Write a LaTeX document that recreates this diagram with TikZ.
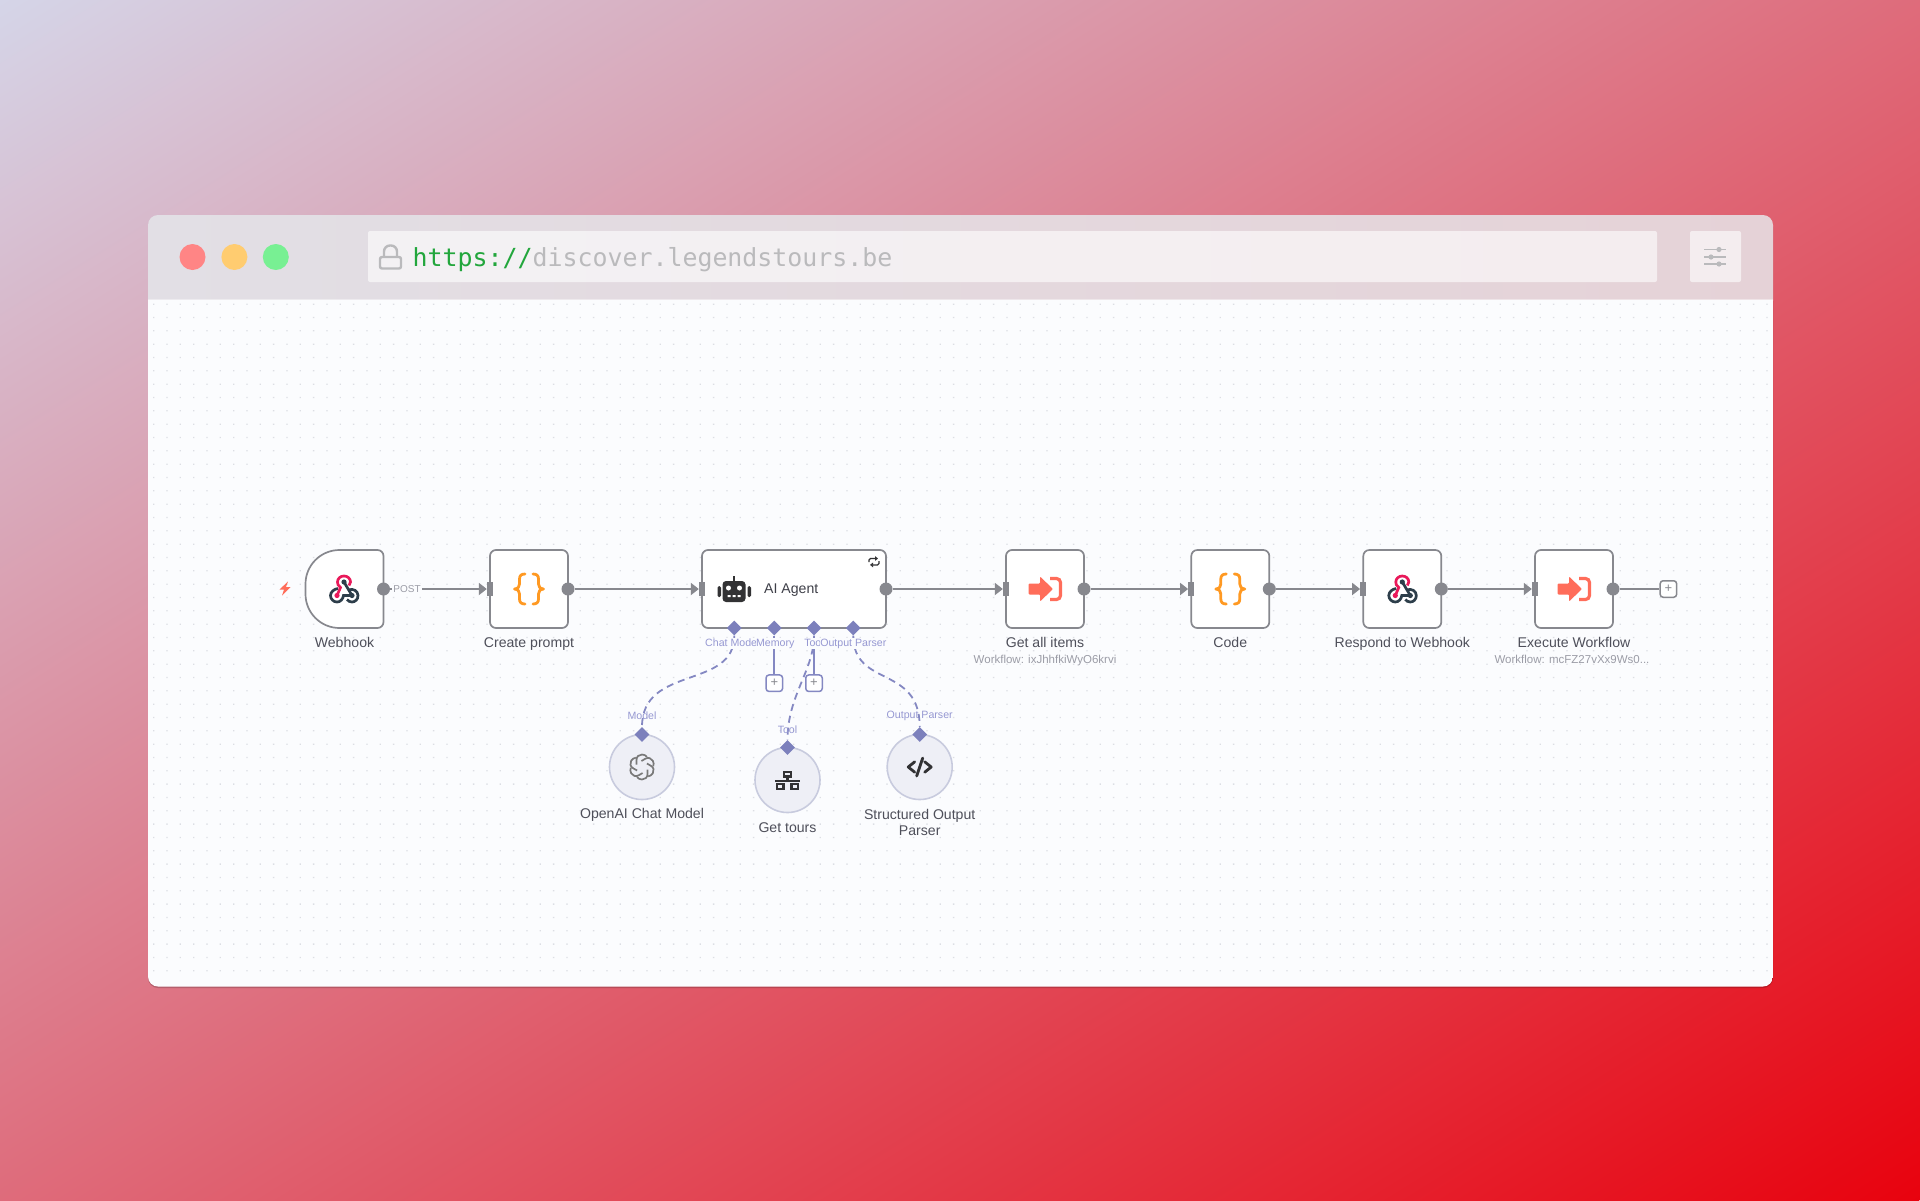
\documentclass[tikz,border=0pt]{standalone}
\usepackage{fontspec}
\setmainfont{Liberation Sans}
\newfontfamily\urlfont{DejaVu Sans Mono}
\definecolor{skyfrom}{RGB}{213, 213, 232}
\definecolor{skymid}{RGB}{222, 101, 117}
\definecolor{skyto}{RGB}{232, 2, 14}
\definecolor{barleft}{RGB}{226, 223, 229}
\definecolor{barright}{RGB}{229, 210, 215}
\definecolor{canvasbg}{RGB}{251, 252, 254}
\definecolor{griddot}{RGB}{220, 222, 228}
\definecolor{nodeline}{RGB}{135, 136, 142}
\definecolor{labelgray}{RGB}{78, 79, 90}
\definecolor{subgray}{RGB}{155, 156, 166}
\definecolor{medpurple}{RGB}{124, 128, 188}
\definecolor{linepurple}{RGB}{132, 136, 194}
\definecolor{textpurple}{RGB}{150, 152, 210}
\definecolor{circleline}{RGB}{200, 203, 222}
\definecolor{circlefill}{RGB}{238, 239, 246}
\definecolor{n8nred}{RGB}{255, 109, 90}
\definecolor{codeorange}{RGB}{255, 153, 34}
\definecolor{hookpink}{RGB}{233, 25, 90}
\definecolor{hookdark}{RGB}{45, 62, 74}
\definecolor{icondark}{RGB}{50, 50, 52}
\definecolor{urlgreen}{RGB}{34, 166, 60}
\definecolor{urlgray}{RGB}{186, 186, 188}
\definecolor{lightred}{RGB}{255, 133, 133}
\definecolor{lightyellow}{RGB}{255, 204, 112}
\definecolor{lightgreen}{RGB}{120, 240, 147}
\usetikzlibrary{arrows.meta, positioning, shapes.geometric}
\tikzset{
	flowbox/.style={rectangle, rounded corners=6pt, draw=nodeline, fill=white, line width=1.7pt, minimum width=78pt, minimum height=78pt, inner sep=0pt, outer sep=0pt},
	widebox/.style={flowbox, minimum width=184pt},
	subcircle/.style={circle, draw=circleline, fill=circlefill, line width=1.6pt, minimum size=65pt, inner sep=0pt, outer sep=0pt},
	outdot/.style={circle, fill=nodeline, minimum size=13pt, inner sep=0pt},
	inport/.style={rectangle, fill=nodeline, minimum width=6pt, minimum height=14pt, inner sep=0pt},
	subport/.style={diamond, fill=medpurple, minimum size=15pt, inner sep=0pt},
	addbox/.style={rectangle, rounded corners=3pt, draw=#1, fill=white, line width=1.5pt, minimum size=16.5pt, inner sep=0pt, text=nodeline, font=\fontsize{13}{13}\selectfont},
	caption/.style={inner sep=0pt, text=labelgray, align=center, font=\fontsize{14.1}{16}\selectfont},
	subcaption/.style={inner sep=0pt, text=subgray, font=\fontsize{11.5}{13}\selectfont},
	portlabel/.style={inner sep=0pt, text=textpurple, font=\fontsize{10.6}{12}\selectfont},
	toplabel/.style={portlabel, fill=canvasbg, text height=8pt, text depth=2.5pt},
	flowarrow/.style={-{Triangle[length=8pt, width=12pt]}, line width=1.9pt, draw=nodeline},
	dashline/.style={line width=1.8pt, draw=linepurple, dash pattern=on 7pt off 5pt},
	stubline/.style={line width=1.8pt, draw=linepurple},
	urlbar/.style={rectangle, rounded corners=2pt, fill=white, fill opacity=0.6, inner sep=0pt},
	winlight/.style={circle, minimum size=26pt, inner sep=0pt},
	pics/curly/.style={code={
		\foreach \s in {1,-1}{
			\draw[codeorange, line width=2.8pt, line cap=round, line join=round, xscale=\s] (-4,-15) .. controls (-7.5,-15) and (-9.5,-13.5) .. (-9.5,-10) -- (-9.5,-5) .. controls (-9.5,-2) and (-11,-0.5) .. (-14.5,0) .. controls (-11,0.5) and (-9.5,2) .. (-9.5,5) -- (-9.5,10) .. controls (-9.5,13.5) and (-7.5,15) .. (-4,15);}
	}},
	pics/hook/.style={code={
		\draw[hookdark, line width=2.7pt] (-6,-0.5) .. controls (-10,0) and (-13.5,3) .. (-13.5,6.5) .. controls (-13.5,10) and (-10.5,13) .. (-7,13) .. controls (-3.5,13) and (-1,10) .. (-0.5,6.5) -- (8,6.5);
		\draw[hookdark, line width=2.7pt] (0,-7) -- (8,6.5);
		\draw[hookdark, line width=2.7pt] (4.5,1) .. controls (9,-1) and (14,2) .. (14,6.5) .. controls (14,10.5) and (11,13) .. (8,13) .. controls (6,13) and (4,12) .. (3,10.5);
		\draw[hookpink, line width=2.7pt] (-7,6.5) -- (-3.5,-1.5) .. controls (-6,-3.5) and (-6.5,-5) .. (-6.5,-7) .. controls (-6.5,-10.5) and (-3.5,-13) .. (0,-13) .. controls (3.5,-13) and (6.5,-10.5) .. (6.5,-7) .. controls (6.5,-5.5) and (6,-4.5) .. (5,-3.5);
		\fill[hookpink] (-7,6.5) circle[radius=2.6];
		\fill[hookdark] (0,-7) circle[radius=2.6] (8,6.5) circle[radius=2.6];
	}},
	pics/runflow/.style={code={
		\fill[n8nred, rounded corners=1pt] (-16.5,-5.5) -- (-5,-5.5) -- (-5,-12.5) -- (8,0) -- (-5,12.5) -- (-5,5.5) -- (-16.5,5.5) -- cycle;
		\draw[n8nred, line width=3.2pt, rounded corners=4pt] (5,-10.5) -- (15.5,-10.5) -- (15.5,10.5) -- (5,10.5);
	}},
	pics/robot/.style={code={
		\fill[icondark, rounded corners=3.5pt] (-11.5,-8) rectangle (11.5,13);
		\fill[icondark, rounded corners=1.5pt] (-16.5,-3) rectangle (-13,8) (13.5,-3) rectangle (17,8);
		\fill[icondark] (-1,-13) rectangle (1,-8);
		\fill[white] (-5.5,-1) circle[radius=2.5] (5.5,-1) circle[radius=2.5];
		\fill[white] (-6.5,6) rectangle (-3.5,8) (-1.5,6) rectangle (1.5,8) (3.5,6) rectangle (6.5,8);
	}},
	pics/loopmark/.style={code={
		\draw[icondark, line width=1.3pt, rounded corners=1.5pt, -{Triangle[length=3pt, width=4.5pt]}] (-5,0.5) -- (-5,-3.2) -- (4,-3.2);
		\draw[icondark, line width=1.3pt, rounded corners=1.5pt, -{Triangle[length=3pt, width=4.5pt]}] (5,-0.5) -- (5,3.2) -- (-4,3.2);
	}},
	pics/knot/.style={code={
		\foreach \a in {0,60,...,300}{
			\draw[gray!95!black, line width=1.7pt, rotate=\a] (-5.5,-2.5) -- (-5.5,-7) .. controls (-5.5,-10.5) and (-3,-12.5) .. (0,-12.5) .. controls (2,-12.5) and (4,-11.5) .. (5,-10);}
	}},
	pics/network/.style={code={
		\draw[icondark, line width=2.5pt] (-3.5,-8) rectangle (3.5,-3.5) (-10.5,4) rectangle (-4,9) (4,4) rectangle (10.5,9);
		\draw[icondark, line width=2.3pt] (0,-3.5) -- (0,1) (-12.5,1) -- (12.5,1);
	}},
	pics/codemark/.style={code={
		\draw[icondark, line width=2.8pt, line cap=round, line join=round] (-5,-5.2) -- (-11.5,0) -- (-5,5.2) (5,-5.2) -- (11.5,0) -- (5,5.2) (-3,9) -- (3,-9);
	}},
}
\begin{document}
\begin{tikzpicture}[x=1pt, y=-1pt, node distance=8pt]
	\useasboundingbox (0,0) rectangle (1920,1200);
	% backdrop
	\begin{scope}
		\clip (0,0) rectangle (1920,1200);
		\begin{scope}[transform canvas={shift={(960,600)}, rotate=-58}]
			\shade[left color=skyfrom, middle color=skymid, right color=skyto] (-1017.5,-1400) rectangle (1017.5,1400);
		\end{scope}
	\end{scope}
	% window
	\fill[black, opacity=0.18, rounded corners=10pt] (148,217) rectangle (1773,988);
	\begin{scope}
		\clip[rounded corners=10pt] (148,215) rectangle (1773,986.5);
		\shade[left color=barleft, right color=barright] (148,215) rectangle (1773,300);
		\fill[white, opacity=0.4] (148,298.5) rectangle (1773,300);
		\fill[canvasbg] (148,300) rectangle (1773,987);
		\fill[griddot] \foreach \i in {0,...,121}{\foreach \j in {0,...,50}{({153+13.333*\i},{303.5+13.333*\j}) rectangle ++(1.3,1.3)}};
	\end{scope}
	\node[winlight, fill=lightred] (redlight) at (192.5,257) {};
	\node[winlight, fill=lightyellow, right=15.5pt of redlight] (yellowlight) {};
	\node[winlight, fill=lightgreen, right=15pt of yellowlight] (greenlight) {};
	\node[urlbar, minimum width=1289pt, minimum height=51pt] (urlfield) at (1012.5,256.5) {};
	\node[urlbar, minimum width=51pt, minimum height=51pt] (tunebox) at (1715.5,256.5) {};
	\draw[urlgray, line width=2.4pt, rounded corners=6pt] (384,257) -- (384,245.5) -- (397,245.5) -- (397,257);
	\draw[urlgray, line width=2.4pt, rounded corners=2pt] (380,257) rectangle (401,268.5);
	\node[anchor=west, inner sep=0pt, font=\urlfont\fontsize{24.9}{28}\selectfont] (urltext) at (412.5,259.5) {\textcolor{urlgreen}{https://}\textcolor{urlgray}{discover.legendstours.be}};
	\foreach \y/\k in {249.5/1719, 257/1711, 264/1719}{
		\draw[urlgray, line width=1.4pt] (1704,\y) -- (1726,\y);
		\fill[urlgray] (\k,\y) circle[radius=2.6];}
	% main row
	\node[flowbox, draw=none, fill=none] (webhook) at (344.5,589) {};
	\fill[white] (webhook.north) [rounded corners=6pt] -- (webhook.north east) -- (webhook.south east) -- (webhook.south) [rounded corners=34pt] -- (webhook.south west) -- (webhook.north west) -- (webhook.north);
	\draw[nodeline, line width=1.7pt] (webhook.north) [rounded corners=6pt] -- (webhook.north east) -- (webhook.south east) -- (webhook.south) [rounded corners=34pt] -- (webhook.south west) -- (webhook.north west) -- (webhook.north);
	\node[flowbox, right=106.5pt of webhook] (prompt) {};
	\node[widebox, right=134pt of prompt] (agent) {};
	\node[flowbox, right=120pt of agent] (allitems) {};
	\node[flowbox, right=107.3pt of allitems] (code) {};
	\node[flowbox, right=94pt of code] (respond) {};
	\node[flowbox, right=93.7pt of respond] (execute) {};
	\foreach \x in {webhook,prompt,agent,allitems,code,respond,execute}{\node[outdot] (\x out) at (\x.east) {};}
	\foreach \x in {prompt,agent,allitems,code,respond,execute}{\node[inport] (\x in) at (\x.west) {};}
	\draw[flowarrow] (webhookout) -- (promptin.west);
	\draw[flowarrow] (promptout) -- (agentin.west);
	\draw[flowarrow] (agentout) -- (allitemsin.west);
	\draw[flowarrow] (allitemsout) -- (codein.west);
	\draw[flowarrow] (codeout) -- (respondin.west);
	\draw[flowarrow] (respondout) -- (executein.west);
	\node[addbox=nodeline, right=39.7pt of executeout] (addnext) {+};
	\draw[line width=1.9pt, draw=nodeline] (executeout) -- (addnext);
	\node[inner sep=1pt, fill=canvasbg, text=subgray, font=\fontsize{10}{11}\selectfont] (postlabel) at (407,589) {POST};
	% icons
	\fill[n8nred] (288,581.5) -- (279.5,589.5) -- (284,589.5) -- (282,595.5) -- (290.5,587) -- (286,587) -- cycle;
	\pic at (344,589) {hook};
	\pic at (prompt) {curly};
	\pic at (734,589) {robot};
	\pic at (874,561.7) {loopmark};
	\pic at (allitems) {runflow};
	\pic at (code) {curly};
	\pic at (respond) {hook};
	\pic at (execute) {runflow};
	\node[anchor=west, inner sep=0pt, text=labelgray!80!black, font=\fontsize{14.1}{16}\selectfont] (agentname) at (764,590) {AI Agent};
	% captions
	\node[caption, text height=10pt, text depth=3pt, below=9pt of webhook] (webhookname) {Webhook};
	\node[caption, text height=10pt, text depth=3pt, below=9pt of prompt] (promptname) {Create prompt};
	\node[caption, text height=10pt, text depth=3pt, below=9pt of allitems] (allitemsname) {Get all items};
	\node[caption, text height=10pt, text depth=3pt, below=9pt of code] (codename) {Code};
	\node[caption, text height=10pt, text depth=3pt, below=9pt of respond] (respondname) {Respond to Webhook};
	\node[caption, text height=10pt, text depth=3pt, below=9pt of execute] (executename) {Execute Workflow};
	\node[subcaption, below=4.5pt of allitemsname] (allitemsid) {Workflow: ixJhhfkiWyO6krvi};
	\node[subcaption, below=4.5pt of executename, xshift=-2pt] (executeid) {Workflow: mcFZ27vXx9Ws0...};
	% sub nodes
	\node[subcircle] (chatmodel) at (642,767) {};
	\node[subcircle] (gettours) at (787.5,780) {};
	\node[subcircle] (parser) at (919.7,767) {};
	\pic at (chatmodel) {knot};
	\pic at (gettours) {network};
	\pic at (parser) {codemark};
	\node[subport] (agentchat) at (734.3,628) {};
	\node[subport] (agentmem) at (774.3,628) {};
	\node[subport] (agenttool) at (814,628) {};
	\node[subport] (agentparser) at (853.3,628) {};
	\node[subport] (chatmodeltop) at (chatmodel.north) {};
	\node[subport] (gettourstop) at (gettours.north) {};
	\node[subport] (parsertop) at (parser.north) {};
	\node[addbox=linepurple, below=38.5pt of agentmem] (addmem) {+};
	\node[addbox=linepurple, below=38.5pt of agenttool] (addtool) {+};
	\draw[stubline] (agentmem) -- (addmem);
	\draw[stubline] (agenttool) -- (addtool);
	\draw[dashline] (agentchat) .. controls +(0,62) and +(0,-70) .. (chatmodeltop);
	\draw[dashline] (agenttool) .. controls +(0,42) and +(0,-52) .. (gettourstop);
	\draw[dashline] (agentparser) .. controls +(0,60) and +(0,-70) .. (parsertop);
	\node[toplabel] (chatlabel) at (732.3,643.5) {Chat Model};
	\node[toplabel] (memlabel) at (775.3,643.5) {Memory};
	\node[toplabel] (toollabel) at (814,643.5) {Tool};
	\node[toplabel] (parserlabel) at (853.3,643.5) {Output Parser};
	\node[portlabel] (modelname) at (642,716) {Model};
	\node[portlabel] (toolname) at (787.5,729.5) {Tool};
	\node[portlabel] (parsername) at (919.7,716) {Output Parser};
	\node[caption] (chatmodelname) at (642,814.5) {OpenAI Chat Model};
	\node[caption] (gettoursname) at (787.5,827.5) {Get tours};
	\node[caption] (parsercaption) at (919.7,822.5) {Structured Output\\Parser};
\end{tikzpicture}
\end{document}
